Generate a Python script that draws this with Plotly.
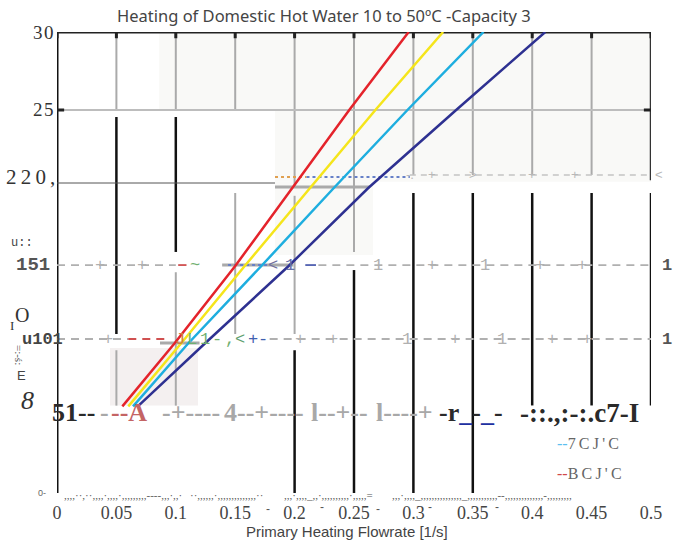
import plotly.graph_objects as go

# ---------------- data ----------------
temp_levels = [6, 10, 15, 20, 25, 30]
flow_red = [0.055, 0.0985, 0.150, 0.198, 0.246, 0.296]
flow_yellow = [0.060, 0.104, 0.158, 0.213, 0.268, 0.325]
flow_cyan = [0.064, 0.110, 0.172, 0.233, 0.295, 0.359]
flow_navy = [0.068, 0.124, 0.195, 0.262, 0.336, 0.411]

x_ticks = [0, 0.05, 0.1, 0.15, 0.2, 0.25, 0.3, 0.35, 0.4, 0.45, 0.5]
x_tick_labels = ["0", "0.05", "0.1", "0.15", "0.2", "0.25", "0.3", "0.35", "0.4", "0.45", "0.5"]

series = [
    ("red", flow_red, "#e4232b"),
    ("yellow", flow_yellow, "#f5e51b"),
    ("cyan", flow_cyan, "#1eaedf"),
    ("navy", flow_navy, "#2e3191"),
]

X_MAX = 0.5
Y_MAX = 30

GRAY = "#aaaaaa"
BLACK = "#111111"
FAINT = "#f9f9f7"

fig = go.Figure()
for name, xs, col in series:
    fig.add_trace(go.Scatter(x=xs, y=temp_levels, mode="lines", name=name,
                             line=dict(color=col, width=2.5), showlegend=False,
                             hoverinfo="skip"))

shapes = []


def rect(x0, x1, y0, y1, color):
    shapes.append(dict(type="rect", xref="x", yref="y", x0=x0, x1=x1, y0=y0, y1=y1,
                       fillcolor=color, line=dict(width=0), layer="below"))


def seg(x0, y0, x1, y1, color, width, dash="solid"):
    shapes.append(dict(type="line", xref="x", yref="y", x0=x0, y0=y0, x1=x1, y1=y1,
                       line=dict(color=color, width=width, dash=dash), layer="below"))


# faint background patches
rect(0.086, 0.5, 25, 30, FAINT)
rect(0.1835, 0.5, 20.4, 25, FAINT)
rect(0.1835, 0.266, 15.7, 20.4, FAINT)
rect(0.0446, 0.1187, 6.05, 9.74, "#f4f0f0")

# vertical grid segments (x, y0, y1, color, width)
vsegs = [
    (0.05, 25, 30, GRAY, 2), (0.05, 10.64, 24.55, BLACK, 2.5), (0.05, 6.05, 9.6, GRAY, 2),
    (0.1, 25, 30, GRAY, 2), (0.1, 15.9, 24.55, BLACK, 2.5), (0.1, 6.05, 14.6, GRAY, 2),
    (0.15, 25, 30, GRAY, 2), (0.15, 10.64, 19.68, GRAY, 2),
    (0.2, 20.0, 30, GRAY, 2), (0.2, 10.64, 19.5, GRAY, 2), (0.2, 0.45, 9.6, BLACK, 2.5),
    (0.25, 15.9, 30, GRAY, 2), (0.25, 0.45, 14.74, BLACK, 2.5),
    (0.3, 20.83, 30, GRAY, 2), (0.3, 0.45, 19.68, BLACK, 2.5),
    (0.35, 20.83, 30, GRAY, 2), (0.35, 0.45, 19.68, BLACK, 2.5),
    (0.4, 20.83, 30, GRAY, 2), (0.4, 6.06, 19.68, BLACK, 2.5),
    (0.45, 20.83, 30, GRAY, 2), (0.45, 6.06, 19.68, BLACK, 2.5),
    (0.5, 20.5, 30, "#333333", 2.5), (0.5, 6.06, 19.68, BLACK, 2.5),
    (0.0, 0.45, 30, BLACK, 3),
]
for x, y0, y1, c, w in vsegs:
    seg(x, y0, x, y1, c, w)

# 25 line
seg(0, 25, 0.5, 25, "#bdbdbd", 2)
seg(0, 25, 0.006, 25, "#222222", 3)
seg(0.494, 25, 0.5, 25, "#222222", 3)
# top border and tick stubs
seg(0, 30, 0.5, 30, "#222222", 3)
for x in x_ticks:
    seg(x, 30, x, 29.6, "#222222", 3)

# "220" row
seg(0, 20.32, 0.1835, 20.32, "#555555", 1)
seg(0.1835, 20.71, 0.21, 20.71, "#e0a050", 2, "dot")
seg(0.21, 20.71, 0.297, 20.71, "#6680c8", 2, "dot")
seg(0.297, 20.83, 0.506, 20.83, "#c4c4c4", 1.5, "6px,5px")
seg(0.1835, 20.06, 0.2635, 20.06, GRAY, 3)

# "151" row
seg(0, 15.06, 0.1, 15.06, "#b0b0b0", 1.8, "8px,6px")
seg(0.102, 15.06, 0.109, 15.06, "#d05050", 1.8)
seg(0.139, 15.06, 0.199, 15.06, GRAY, 3)
seg(0.144, 15.06, 0.177, 15.06, "#6680c8", 2, "dot")
seg(0.209, 15.06, 0.218, 15.06, "#5060b0", 1.8)
seg(0.22, 15.06, 0.5, 15.06, "#b0b0b0", 1.8, "8px,6px")

# "101" row
seg(0, 10.32, 0.06, 10.32, "#b0b0b0", 1.8, "8px,6px")
seg(0.06, 10.32, 0.0926, 10.32, "#d05050", 1.8, "8px,6px")
seg(0.0867, 10.06, 0.12, 10.06, GRAY, 3)
seg(0.179, 10.32, 0.5, 10.32, "#b0b0b0", 1.8, "8px,6px")

ann = []


def txt(x, y, s, size, color, family="Liberation Serif", xanchor="center", bold=False,
        textangle=0):
    # positions given in axis units, placed on paper so text outside the plot stays visible
    if bold:
        s = "<b>" + s + "</b>"
    ann.append(dict(x=x / X_MAX, y=y / Y_MAX, xref="paper", yref="paper", text=s,
                    showarrow=False, xanchor=xanchor, yanchor="middle", textangle=textangle,
                    font=dict(size=size, color=color, family=family)))


MONO = "Liberation Mono"
SANS = "Liberation Sans"
HS = "\u200a"   # hair space
TS = "\u2009"   # thin space

# y-side labels
txt(-0.001, 29.94, "3" + HS + "0", 19, "#333333", xanchor="right")
txt(-0.001, 25.0, "2" + HS + "5", 19, "#333333", xanchor="right")
txt(0.0, 20.7, TS.join("220,"), 21, "#333333", xanchor="right")
txt(-0.0295, 16.47, "u::", 12, "#444444", family=MONO)
txt(-0.0202, 15.06, "151", 19, "#555555", family=MONO, bold=True)
txt(-0.0295, 11.86, "O", 20, "#333333")
txt(-0.0379, 11.2, "I", 13, "#333333")
txt(-0.012, 10.32, "u101", 17, "#444444", family=MONO, bold=True)
txt(-0.032, 9.3, "=:-ś:", 11, "#555555", textangle=90)
txt(-0.0295, 7.95, "E", 13, "#444444", family=SANS)
txt(-0.025, 6.35, "<i>8</i>", 26, "#333333")

# 220 row marks
for x, s in [(0.297, "-."), (0.3157, "+"), (0.3502, ">"), (0.3998, "+"), (0.436, "+"), (0.507, "<")]:
    txt(x, 20.85, s, 13, "#b8b8b8", family=SANS)

# 151 row marks
marks151 = [(0.036, "+", "#b0b0b0"), (0.0716, "+", "#b0b0b0"), (0.1162, "~", "#70b070"),
            (0.1818, "<", "#7070a0"), (0.1961, "1", "#6670a8"),
            (0.2702, "1", "#b0b0b0"), (0.3157, "+", "#b0b0b0"), (0.3603, "1", "#b0b0b0"),
            (0.4066, "+", "#b0b0b0"), (0.4419, "+", "#b0b0b0")]
for x, s, c in marks151:
    txt(x, 15.06, s, 17, c, family=MONO)
txt(0.5135, 15.06, "1", 17, "#555555", family=MONO, bold=True)

# 101 row marks
marks101 = [(0.0429, "+", "#b0b0b0"), (0.1035, "J", "#d08040"), (0.1136, "L", "#70b070"),
            (0.1246, "1", "#70b070"), (0.1347, "-", "#70b070"), (0.1456, ",", "#70b070"),
            (0.154, "<", "#60a070"), (0.165, "+", "#4060b0"), (0.1734, "-", "#4060b0"),
            (0.2045, "+", "#b0b0b0"), (0.2323, "+", "#b0b0b0"), (0.2946, "1", "#b0b0b0"),
            (0.335, "+", "#b0b0b0"), (0.3746, "1", "#b0b0b0"), (0.4167, "+", "#b0b0b0"),
            (0.4461, "+", "#b0b0b0")]
for x, s, c in marks101:
    txt(x, 10.32, s, 17, c, family=MONO)
txt(0.5135, 10.32, "1", 17, "#555555", family=MONO, bold=True)

# 51 row (bold serif garble)
DK = "#2a2a2a"
GR = "#a8a8a8"
RD = "#c46464"
txt(-0.0059, 5.58, "51--", 26, DK, xanchor="left", bold=True)
txt(0.0345, 5.58, "-", 26, GR, xanchor="left", bold=True)
txt(0.0438, 5.58, "--A", 26, RD, xanchor="left", bold=True)
txt(0.0867, 5.58, "-+----", 26, GR, xanchor="left", bold=True)
txt(0.1389, 5.58, "4--+----", 26, GR, xanchor="left", bold=True)
txt(0.2121, 5.58, "l--+--", 26, GR, xanchor="left", bold=True)
txt(0.2668, 5.58, "l----+", 26, GR, xanchor="left", bold=True)
txt(0.3199, 5.58,
    "-r<span style='color:#2030a0'>_</span>-<span style='color:#2030a0'>_</span>-",
    26, DK, xanchor="left", bold=True)
txt(0.388, 5.58, "-::.,:-:.c7-I", 27, DK, xanchor="left", bold=True)

# legend-like text
txt(0.4192, 3.65, "<span style='color:#5bc0f0'>--</span>" + TS.join("7CJ'C"), 16, "#666666",
    xanchor="left")
txt(0.4192, 1.73, "<span style='color:#d04848'>--</span>" + TS.join("BCJ'C"), 16, "#666666",
    xanchor="left")

# bottom dotted garble
GC = "#555555"
txt(-0.0126, 0.45, "0-", 9, "#666666", family=SANS)
txt(0.004, 0.3, ",,,,··,··,,,,·,,,,·,,,,,,,,,----,,,·,,·", 11, GC, xanchor="left")
txt(0.1102, 0.3, "··,,,,,,·,,,,,,,,,,,,,,··", 11, GC, xanchor="left")
txt(0.1894, 0.3, ",,,·,,,,_,,·,,,,,,,,,,·,,,,,=", 11, GC, xanchor="left")
txt(0.2803, 0.3, ",,,·,,,,_,,,,,,,,,,,,,,,_,,,,,,,,,,,--,,,,,,,,,,,,,,-,,,,,,,,,", 11, GC,
    xanchor="left")
for x, y in [(0.1776, -0.55), (0.2233, -0.45), (0.2700, -0.6), (0.3139, -0.45), (0.3704, -0.45)]:
    txt(x, y, "-", 12, GC, family=SANS)

# title and x-axis title
ann.append(dict(x=0.4495, y=1.0, xref="paper", yref="paper", yanchor="bottom", yshift=3,
                text="Heating of Domestic Hot Water 10 to 50ºC -Capacity 3", showarrow=False,
                font=dict(size=16.5, color="#444444", family="Noto Sans")))
ann.append(dict(x=0.488, y=0.0, xref="paper", yref="paper", yanchor="middle", yshift=-31,
                text="Primary Heating Flowrate [1/s]", showarrow=False,
                font=dict(size=15, color="#444444", family=SANS)))

fig.update_layout(
    width=674, height=542,
    margin=dict(l=57, r=23, t=32, b=42, pad=0),
    paper_bgcolor="white", plot_bgcolor="white",
    shapes=shapes, annotations=ann,
    xaxis=dict(range=[0, X_MAX], tickvals=x_ticks, ticktext=x_tick_labels,
               showgrid=False, zeroline=False, showline=False, ticks="",
               tickfont=dict(family="Liberation Serif", size=18, color="#444444")),
    yaxis=dict(range=[0, Y_MAX], showgrid=False, zeroline=False, showline=False,
               showticklabels=False, ticks=""),
)

fig.write_html("out.html")
